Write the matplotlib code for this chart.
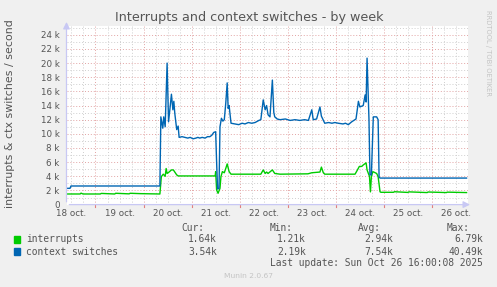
import matplotlib
matplotlib.use("Agg")
import matplotlib.pyplot as plt
from matplotlib.ticker import FixedLocator, MultipleLocator, FuncFormatter
import matplotlib.transforms as mtransforms
import numpy as np

# ---- data (time in fractional day-of-October, values in thousands / s) ----
blue_t = [18.40, 18.47, 18.49, 20.34, 20.36, 20.40, 20.42, 20.45, 20.49, 20.52, 20.55, 20.58,
          20.61, 20.63, 20.65, 20.69, 20.72, 20.74, 20.80, 20.86, 20.92, 20.97, 21.03, 21.09,
          21.13, 21.17, 21.22, 21.28, 21.33, 21.38, 21.42, 21.46, 21.50, 21.52, 21.54, 21.57,
          21.59, 21.62, 21.65, 21.68, 21.71, 21.74, 21.76, 21.78, 21.82, 21.90, 21.98, 22.05,
          22.11, 22.18, 22.25, 22.32, 22.40, 22.44, 22.49, 22.53, 22.56, 22.59, 22.63, 22.68,
          22.71, 22.73, 22.78, 22.84, 22.95, 23.05, 23.15, 23.25, 23.35, 23.43, 23.50, 23.53,
          23.60, 23.67, 23.70, 23.77, 23.85, 23.92, 23.98, 24.05, 24.15, 24.20, 24.26, 24.33,
          24.42, 24.47, 24.50, 24.57, 24.61, 24.63, 24.65, 24.69, 24.71, 24.74, 24.78, 24.85,
          24.88, 24.90, 24.92, 26.72]
blue_v = [2.30, 2.30, 2.63, 2.63, 12.4, 10.8, 12.4, 11.0, 20.0, 11.7, 13.6, 15.6,
          13.4, 14.6, 12.9, 10.6, 11.1, 9.5, 9.6, 9.5, 9.4, 9.5, 9.3, 9.4,
          9.5, 9.4, 9.5, 9.4, 9.6, 9.6, 9.8, 10.2, 10.3, 6.0, 2.2, 2.3,
          11.0, 12.2, 11.8, 12.0, 14.3, 17.2, 13.6, 14.0, 11.5, 11.4, 11.3, 11.5,
          11.4, 11.6, 11.5, 11.6, 11.9, 12.0, 14.8, 13.4, 14.0, 12.7, 12.4, 17.6,
          13.0, 12.4, 12.1, 12.0, 12.1, 11.9, 12.0, 11.9, 12.0, 11.9, 13.4, 12.0,
          12.1, 13.8, 12.5, 11.5, 11.6, 11.5, 11.6, 11.5, 11.4, 11.5, 11.3, 11.7,
          12.1, 14.6, 13.8, 14.0, 15.5, 14.5, 20.7, 12.0, 4.2, 4.2, 12.4, 12.4,
          12.0, 3.9, 3.75, 3.75]

green_t = [18.40, 18.68, 18.70, 18.74, 19.10, 19.12, 19.40, 19.42, 19.70, 19.72, 19.93, 20.34,
           20.37, 20.41, 20.45, 20.47, 20.49, 20.53, 20.58, 20.62, 20.65, 20.69, 20.72, 21.49,
           21.50, 21.52, 21.55, 21.59, 21.61, 21.64, 21.68, 21.71, 21.74, 21.78, 21.82, 22.44,
           22.49, 22.53, 22.56, 22.59, 22.68, 22.73, 22.84, 23.42, 23.50, 23.67, 23.70, 23.74,
           23.77, 24.40, 24.43, 24.49, 24.54, 24.57, 24.63, 24.65, 24.70, 24.72, 24.74, 24.77,
           24.85, 24.88, 24.92, 24.94, 25.20, 25.22, 25.50, 25.52, 25.90, 25.92, 26.30, 26.32,
           26.72]
green_v = [1.50, 1.50, 1.62, 1.50, 1.50, 1.58, 1.50, 1.60, 1.52, 1.60, 1.55, 1.50,
           3.95, 4.30, 4.00, 5.10, 4.40, 4.60, 4.90, 4.90, 4.60, 4.20, 4.05, 4.05,
           4.66, 2.07, 1.60, 2.30, 3.95, 4.66, 4.50, 5.10, 5.75, 4.66, 4.30, 4.30,
           4.90, 4.40, 4.60, 4.40, 4.90, 4.40, 4.30, 4.35, 4.50, 4.60, 5.30, 4.50,
           4.30, 4.30, 4.66, 5.40, 5.40, 5.60, 5.90, 4.90, 4.00, 1.80, 3.95, 4.66,
           4.40, 3.95, 1.80, 1.74, 1.74, 1.82, 1.72, 1.80, 1.70, 1.78, 1.70, 1.76,
           1.70]

day_labels = ["18 oct.", "19 oct.", "20 oct.", "21 oct.", "22 oct.", "23 oct.",
              "24 oct.", "25 oct.", "26 oct."]
label_days = [18.5, 19.5, 20.5, 21.5, 22.5, 23.5, 24.5, 25.5, 26.5]

series_names = ["interrupts", "context switches"]
series_colors = ["#00CC00", "#0066B3"]
cur_vals = ["1.64k", "3.54k"]
min_vals = ["1.21k", "2.19k"]
avg_vals = ["2.94k", "7.54k"]
max_vals = ["6.79k", "40.49k"]

# ---- figure ----
W, H = 497, 287
fig = plt.figure(figsize=(W / 100, H / 100), dpi=100, facecolor="#F0F0F0")
L, R, T, B = 66.5, 468.0, 26.3, 204.6
ax = fig.add_axes([L / W, 1 - B / H, (R - L) / W, (B - T) / H])
ax.set_facecolor("white")

x0, x1 = 18.40 - 0.003, 26.75
ax.set_xlim(x0, x1)
ax.set_ylim(0, 25.2)

txtc = "#555555"
gray = "#cfcfcf"
red = "#e2a4a4"
dot = (0, (1, 2))

# grid
for v in range(1, 26):
    if v % 2:
        ax.axhline(v, color=gray, lw=0.7, ls=dot, zorder=1)
for v in range(2, 26, 2):
    ax.axhline(v, color=red, lw=0.7, ls=dot, zorder=1)
for q in np.arange(18.25, 26.8, 0.25):
    if abs(q - round(q)) > 1e-6:
        ax.axvline(q, color=gray, lw=0.7, ls=dot, zorder=1)
for d in range(19, 27):
    ax.axvline(d, color=red, lw=0.7, ls=dot, zorder=1)

# data lines
ax.plot(green_t, green_v, color=series_colors[0], lw=1.0, zorder=3, solid_joinstyle="round")
ax.plot(blue_t, blue_v, color=series_colors[1], lw=1.0, zorder=3, solid_joinstyle="round")

# ticks
ax.yaxis.set_major_locator(MultipleLocator(2))
ax.yaxis.set_major_formatter(FuncFormatter(lambda v, p: "0" if v == 0 else f"{int(v)} k"))
ax.xaxis.set_major_locator(FixedLocator(label_days))
ax.set_xticklabels(day_labels)
ax.tick_params(axis="both", length=0, labelsize=6.3, colors=txtc, pad=3)
ax.tick_params(axis="y", pad=5)
for s in ax.spines.values():
    s.set_visible(False)

# axis lines with arrows
axc = "#c8c8f4"
ax.annotate("", xy=(0, 1.04), xytext=(0, 0), xycoords="axes fraction",
            arrowprops=dict(arrowstyle="-|>,head_length=0.4,head_width=0.2", color=axc, lw=0.9),
            annotation_clip=False)
ax.annotate("", xy=(1.012, 0), xytext=(0, 0), xycoords="axes fraction",
            arrowprops=dict(arrowstyle="-|>,head_length=0.4,head_width=0.2", color=axc, lw=0.9),
            annotation_clip=False)

# small ticks below axis
trans = mtransforms.blended_transform_factory(ax.transData, ax.transAxes)
for d in range(19, 27):
    ax.plot([d, d], [0, -0.012], color="#e08080", lw=0.8, transform=trans, clip_on=False)

# titles
fig.text(249 / W, 1 - 18 / H, "Interrupts and context switches - by week", ha="center",
         va="center", fontsize=9.2, color=txtc)
fig.text(10 / W, 1 - 114 / H, "interrupts & ctx switches / second", ha="center", va="center",
         rotation=90, fontsize=7.9, color=txtc)
fig.text(488 / W, 1 - 53 / H, "RRDTOOL / TOBI OETIKER", ha="center", va="center",
         rotation=270, fontsize=4.9, color="#c4c4c4")

# legend table
mono = "DejaVu Sans Mono"
fs = 6.9
hy = 1 - 228 / H
for txt, xr in zip(["Cur:", "Min:", "Avg:", "Max:"], [204, 293, 381, 470]):
    fig.text(xr / W, hy, txt, ha="right", va="center", fontsize=fs, family=mono, color=txtc)
rows_y = [239.5, 251.7]
for i in range(2):
    y = 1 - rows_y[i] / H
    fig.patches.append(plt.Rectangle((13.5 / W, y - 3.3 / H), 6.5 / W, 6.5 / H,
                                     transform=fig.transFigure, color=series_colors[i]))
    fig.text(26.5 / W, y, series_names[i], ha="left", va="center", fontsize=fs, family=mono,
             color=txtc)
    for vals, xr in zip([cur_vals, min_vals, avg_vals, max_vals], [217, 306, 393, 483]):
        fig.text(xr / W, y, vals[i], ha="right", va="center", fontsize=fs, family=mono,
                 color=txtc)
fig.text(483 / W, 1 - 263.5 / H, "Last update: Sun Oct 26 16:00:08 2025", ha="right",
         va="center", fontsize=fs, family=mono, color=txtc)
fig.text(248 / W, 1 - 276 / H, "Munin 2.0.67", ha="center", va="center", fontsize=5.4,
         color="#c4c4c4")

fig.savefig("out.png", dpi=100, facecolor=fig.get_facecolor())
